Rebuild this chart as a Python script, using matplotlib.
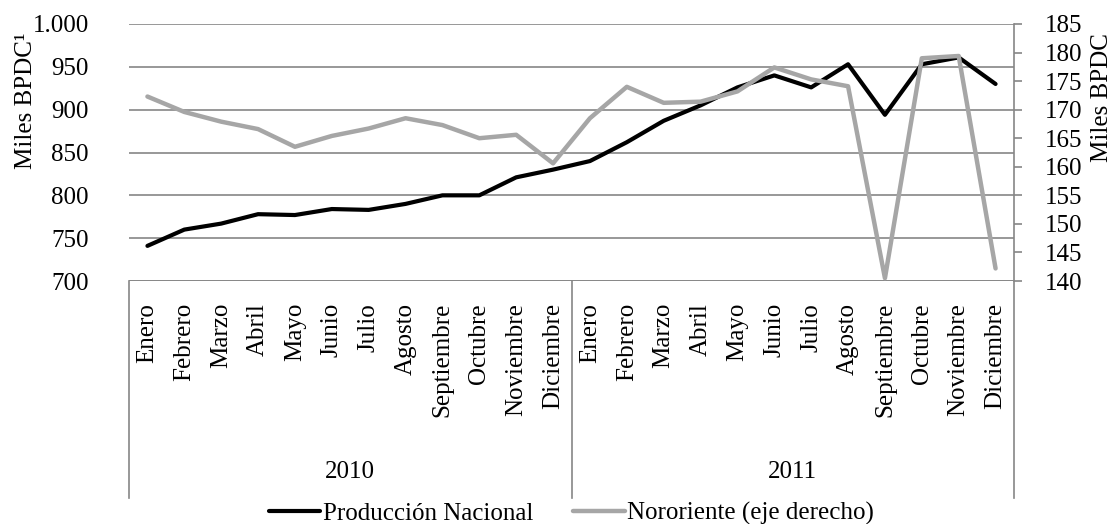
import matplotlib.pyplot as plt

plt.rcParams['font.family'] = ['Liberation Serif', 'DejaVu Serif']
plt.rcParams['font.size'] = 18

# datos
meses = ['Enero', 'Febrero', 'Marzo', 'Abril', 'Mayo', 'Junio', 'Julio',
         'Agosto', 'Septiembre', 'Octubre', 'Noviembre', 'Diciembre']
anios = ['2010', '2011']
produccion_nacional = [741, 760, 767, 778, 777, 784, 783, 790, 800, 800, 821, 830,
                       840, 862, 887, 905, 926, 940, 926, 953, 894, 953, 961, 930]
nororiente = [172.3, 169.6, 167.9, 166.6, 163.5, 165.4, 166.7, 168.5, 167.3, 165.0, 165.6, 160.6,
              168.5, 174.0, 171.2, 171.4, 173.2, 177.4, 175.3, 174.1, 140.5, 179.0, 179.4, 142.2]

gris_eje = '#868686'
n = len(produccion_nacional)
x = list(range(n))

fig = plt.figure(figsize=(11.18, 5.24), dpi=100)
ax = fig.add_axes([129 / 1118, 1 - 281 / 524, (1014 - 129) / 1118, (281 - 24) / 524])

l1, = ax.plot(x, produccion_nacional, color='black', lw=3, solid_capstyle='round',
              label='Producción Nacional', zorder=3)
ax.set_xlim(-0.5, n - 0.5)
ax.set_ylim(700, 1000)
ax.set_yticks(range(700, 1001, 50))
ax.set_yticklabels(['700', '750', '800', '850', '900', '950', '1.000'])
ax.yaxis.grid(True, color=gris_eje, lw=1.2, zorder=0)
ax.set_axisbelow(True)
for s in ax.spines.values():
    s.set_visible(False)
ax.set_xticks([])
ax.tick_params(axis='y', length=0, pad=29)
ax.set_ylabel('Miles BPDC¹')
ax.yaxis.set_label_coords(-0.104, 0.70)

ax2 = ax.twinx()
l2, = ax2.plot(x, nororiente, color='#A6A6A6', lw=3.2, solid_capstyle='round',
               label='Nororiente (eje derecho)')
ax2.set_ylim(140, 185)
ax2.set_yticks(range(140, 186, 5))
for s in ['left', 'top', 'bottom']:
    ax2.spines[s].set_visible(False)
ax2.spines['right'].set_color(gris_eje)
ax2.spines['right'].set_linewidth(1.2)
ax2.tick_params(axis='y', length=6, width=1.2, color=gris_eje, pad=16)
ax2.set_ylabel('Miles BPDC')
ax2.yaxis.set_label_coords(1.087, 0.712)

# eje de categorias agrupado
trans = ax.get_xaxis_transform()
for i in range(n):
    ax.text(i, -0.086, meses[i % 12], rotation=90, ha='center', va='top', transform=trans)
for k, anio in enumerate(anios):
    ax.text(k * 12 + 5.5, -0.743, anio, ha='center', va='center', transform=trans)
for xv in [-0.5, 11.5, n - 0.5]:
    ax.axvline(xv, ymin=-0.845, ymax=0, color=gris_eje, lw=1.2, clip_on=False)
ax.axhline(700, color=gris_eje, lw=1.2, zorder=1)

ax.legend([l1, l2], [l1.get_label(), l2.get_label()], loc='center',
          bbox_to_anchor=(0.5, -0.905), ncol=2, frameon=False,
          handlelength=2.05, handletextpad=0.1, columnspacing=1.6,
          borderpad=0, borderaxespad=0)

fig.savefig('out.png', dpi=100)
